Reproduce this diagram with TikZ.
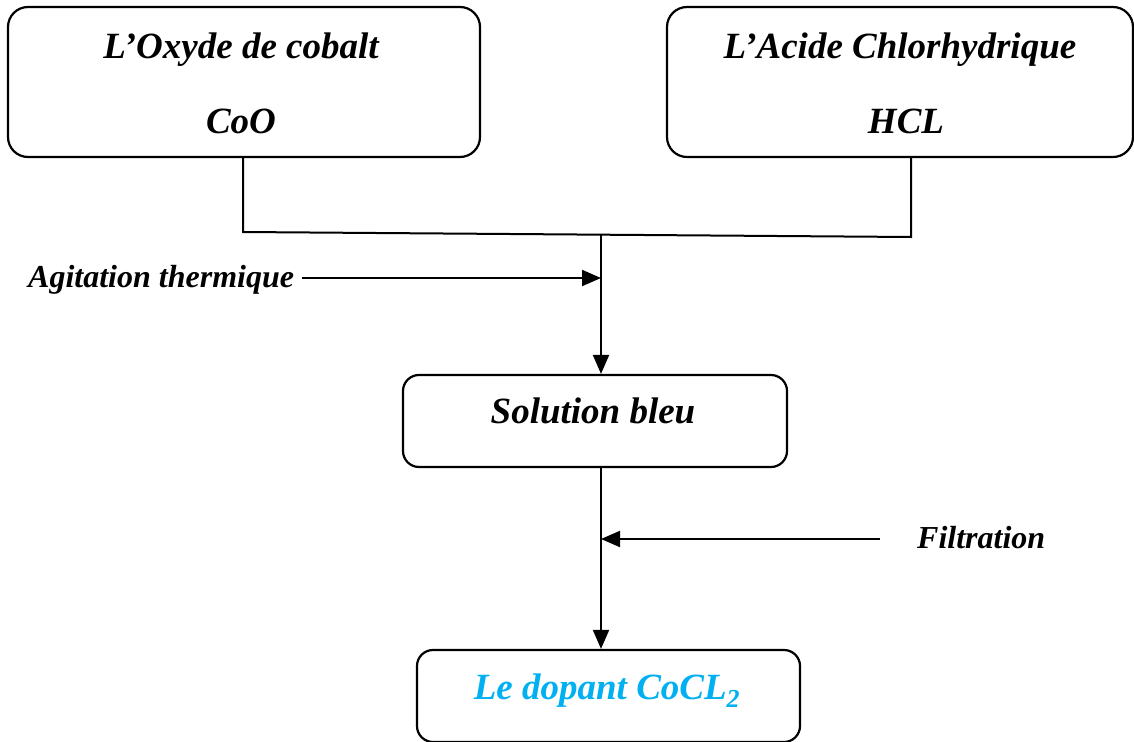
\documentclass[tikz,border=0pt]{standalone}
\usepackage{fontspec}
\setmainfont{Liberation Serif}
\usetikzlibrary{arrows.meta}
\definecolor{lblue}{HTML}{00B0F0}
\begin{document}
\begin{tikzpicture}[x=1pt,y=-1pt,
  box/.style={draw, line width=2.2pt, rounded corners=20pt, inner sep=0pt},
  sbox/.style={draw, line width=2.2pt, rounded corners=16pt, inner sep=0pt},
  big/.style={font=\fontsize{37}{44}\selectfont\bfseries\itshape, inner sep=0pt},
  side/.style={font=\fontsize{32}{38}\selectfont\bfseries\itshape, inner sep=0pt},
  wire/.style={line width=2pt},
  arr/.style={line width=2pt, -{Triangle[length=19pt,width=16pt]}}]
\useasboundingbox (0,0) rectangle (1134,741);
% boxes
\node[box, minimum width=472pt, minimum height=150pt] (b1) at (244,82) {};
\node[box, minimum width=466pt, minimum height=150pt] (b2) at (900,82) {};
\node[sbox, minimum width=384pt, minimum height=92pt] (sol) at (595,421) {};
\node[sbox, minimum width=383pt, minimum height=92pt] (dop) at (608.5,696) {};
% texts
\node[big, anchor=base] (t1a) at (241,59) {L’Oxyde de cobalt};
\node[big, anchor=base] (t1b) at (241,133) {CoO};
\node[big, anchor=base] (t2a) at (900,59) {L’Acide Chlorhydrique};
\node[big, anchor=base] (t2b) at (906,133) {HCL};
\node[big, anchor=base] (tsol) at (593,423) {Solution bleu};
\node[big, anchor=base, text=lblue] (tdop) at (607,699) {Le dopant CoCL\textsubscript{2}};
\node[side, anchor=base west] (agit) at (28,287) {Agitation thermique};
\node[side, anchor=base west] (filt) at (917,548) {Filtration};
% connectors
\coordinate (j1) at (243,232);
\coordinate (j2) at (911,237);
\coordinate (jc) at (601,234);
\draw[wire] (b1.south -| j1) -- (j1) -- (j2) -- (b2.south -| j2);
\draw[arr] (jc) -- (sol.north -| jc);
\coordinate (a1) at (302,278);
\draw[arr] (a1) -- (a1 -| jc);
\draw[arr] (sol.south -| jc) -- (dop.north -| jc);
\coordinate (f1) at (880,539);
\draw[arr] (f1) -- (f1 -| jc);
\end{tikzpicture}
\end{document}
